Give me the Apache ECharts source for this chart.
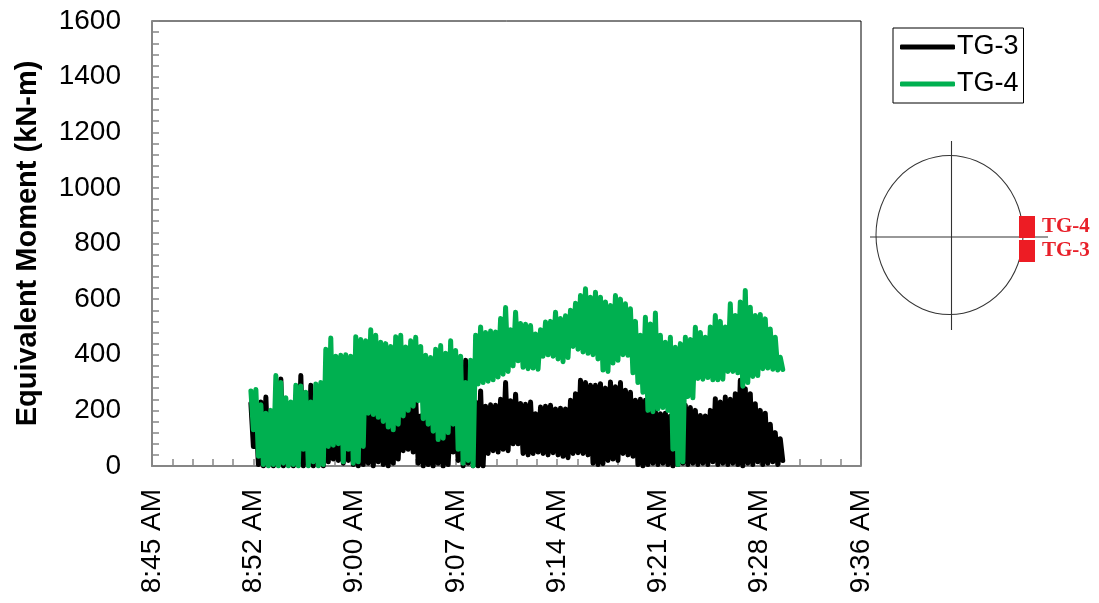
<!DOCTYPE html>
<html>
<head>
<meta charset="utf-8">
<script src="https://cdn.jsdelivr.net/npm/echarts@6/dist/echarts.min.js"></script>
<style>
  html, body { margin: 0; padding: 0; background: #fff; }
  #chart { width: 1099px; height: 603px; }
</style>
</head>
<body>
<div id="chart"></div>
<script>
// Equivalent moment at gauges TG-3 and TG-4 (kN-m), consecutive readings.
const seriesNames = ['TG-3', 'TG-4'];

const tg3Moment = [
  225, 70, 200, 5, 230, 0, 248, 5, 180, 0, 220, 10, 313, 0, 230, 5, 200, 0, 240, 10,
  325, 0, 250, 5, 290, 0, 240, 10, 230, 0, 200, 15, 260, 25, 230, 20, 280, 10, 250, 20,
  373, 5, 250, 0, 220, 5, 230, 10, 210, 0, 200, 15, 220, 5, 180, 0, 190, 10, 210, 25,
  235, 55, 225, 60, 235, 50, 245, 10, 180, 0, 160, 5, 150, 0, 120, 10, 140, 0, 150, 5,
  190, 50, 170, 20, 200, 0, 380, 10, 315, 0, 230, 0, 270, 0, 215, 45, 220, 55, 218, 50,
  240, 60, 300, 55, 235, 80, 258, 80, 225, 45, 222, 40, 230, 45, 188, 50, 212, 45, 215, 40,
  218, 48, 205, 40, 208, 35, 205, 30, 236, 45, 260, 48, 308, 45, 300, 40, 290, 10, 290, 5,
  296, 8, 280, 20, 302, 25, 285, 20, 300, 45, 272, 40, 265, 35, 236, 5, 240, 0, 236, 5,
  230, 10, 200, 5, 188, 10, 190, 5, 180, 0, 175, 5, 190, 10, 218, 5, 210, 10, 200, 5,
  182, 10, 180, 5, 200, 15, 242, 5, 230, 10, 248, 5, 240, 10, 260, 5, 308, 0, 278, 10,
  260, 5, 224, 15, 200, 5, 190, 10, 150, 15, 120, 5, 98, 20
];

const tg4Moment = [
  270, 130, 275, 35, 220, 5, 190, 0, 200, 5, 325, 0, 300, 10, 245, 0, 230, 5, 290, 0,
  288, 60, 265, 0, 230, 15, 295, 0, 300, 5, 420, 70, 460, 75, 395, 80, 398, 15, 400, 60,
  395, 10, 465, 15, 455, 70, 450, 190, 490, 185, 470, 175, 445, 160, 440, 140, 430, 130, 465, 150,
  470, 180, 428, 200, 450, 215, 463, 235, 430, 170, 398, 150, 390, 125, 420, 95, 433, 100, 405, 120,
  450, 150, 415, 60, 395, 10, 300, 20, 380, 0, 470, 295, 500, 300, 480, 305, 485, 310, 482, 320,
  530, 330, 570, 340, 490, 360, 553, 378, 512, 355, 510, 350, 505, 352, 475, 348, 490, 395, 518, 400,
  520, 395, 553, 385, 530, 375, 540, 390, 560, 430, 585, 420, 613, 410, 637, 405, 607, 400, 625, 385,
  607, 345, 590, 340, 577, 370, 613, 380, 600, 400, 583, 398, 565, 335, 520, 300, 470, 265, 535, 200,
  511, 195, 550, 205, 470, 210, 445, 200, 463, 60, 427, 5, 440, 15, 463, 250, 455, 245, 499, 315,
  480, 312, 463, 318, 500, 310, 541, 310, 520, 312, 500, 340, 583, 340, 541, 335, 590, 287, 631, 300,
  571, 322, 541, 325, 545, 350, 529, 352, 493, 348, 463, 345, 391, 347
];

// Readings start at 8:52:38 AM and follow every 10.65 s (times in minutes after midnight).
const firstSampleMinute = 532.63;
const sampleStepMinutes = 0.1775;

// Axis ranges: time axis 8:45:36 .. 9:36:00 in steps of 7.2 min, moment 0..1600 by 200.
const timeAxisMin = 525.6;
const timeAxisMax = 576;
const timeAxisStep = 7.2;
const momentAxisMin = 0;
const momentAxisMax = 1600;
const momentAxisStep = 200;

const FONT = '"Liberation Sans", Arial, sans-serif';
const AXIS_GREY = '#868686';

function toPairs(values) {
  return values.map((v, i) => [firstSampleMinute + i * sampleStepMinutes, v]);
}

function clockLabel(minutes) {
  const m = Math.round(minutes * 1000) / 1000;
  const h = Math.floor(m / 60);
  const mm = Math.floor(m - h * 60 + 1e-6);
  const suffix = h >= 12 ? 'PM' : 'AM';
  const h12 = ((h + 11) % 12) + 1;
  return h12 + ':' + String(mm).padStart(2, '0') + ' ' + suffix;
}

const chart = echarts.init(document.getElementById('chart'), null, { renderer: 'canvas' });

chart.setOption({
  animation: false,
  backgroundColor: '#fff',
  grid: {
    left: 152, top: 21, right: 238, bottom: 137,
    show: true, borderColor: '#000', borderWidth: 1, backgroundColor: 'transparent'
  },
  legend: {
    data: seriesNames,
    orient: 'vertical',
    left: 893, top: 28,
    padding: [4, 5, 4, 7],
    itemGap: 7,
    itemWidth: 55, itemHeight: 5,
    icon: 'roundRect',
    borderColor: '#000', borderWidth: 1,
    textStyle: { fontFamily: FONT, fontSize: 27, color: '#000', lineHeight: 30, padding: [0, 0, 0, -3] }
  },
  xAxis: {
    type: 'value',
    min: timeAxisMin, max: timeAxisMax, interval: timeAxisStep,
    axisLine: { show: true, onZero: false, lineStyle: { color: AXIS_GREY, width: 2 } },
    axisTick: { show: true, inside: true, length: 7, lineStyle: { color: AXIS_GREY, width: 1.5 } },
    minorTick: { show: true, splitNumber: 5, length: 7, lineStyle: { color: AXIS_GREY, width: 1.5 } },
    splitLine: { show: false },
    axisLabel: {
      rotate: 90, margin: 23, fontFamily: FONT, fontSize: 28, color: '#000',
      showMinLabel: true, showMaxLabel: true,
      formatter: clockLabel
    }
  },
  yAxis: {
    type: 'value',
    min: momentAxisMin, max: momentAxisMax, interval: momentAxisStep,
    name: 'Equivalent Moment (kN-m)',
    nameLocation: 'middle',
    nameGap: 110,
    nameTextStyle: { fontFamily: FONT, fontSize: 29, fontWeight: 'bold', color: '#000' },
    axisLine: { show: true, lineStyle: { color: AXIS_GREY, width: 2 } },
    axisTick: { show: true, inside: true, length: 7, lineStyle: { color: AXIS_GREY, width: 1.5 } },
    minorTick: { show: true, splitNumber: 5, length: 7, lineStyle: { color: AXIS_GREY, width: 1.5 } },
    splitLine: { show: false },
    axisLabel: {
      margin: 31, fontFamily: FONT, fontSize: 28, color: '#000',
      formatter: (v) => String(v)
    }
  },
  series: [
    {
      name: seriesNames[0], type: 'line', data: toPairs(tg3Moment),
      showSymbol: false, symbol: 'none', z: 2,
      itemStyle: { color: '#000' },
      lineStyle: { color: '#000', width: 5, cap: 'round', join: 'round' }
    },
    {
      name: seriesNames[1], type: 'line', data: toPairs(tg4Moment),
      showSymbol: false, symbol: 'none', z: 3,
      itemStyle: { color: '#00b050' },
      lineStyle: { color: '#00b050', width: 5, cap: 'round', join: 'round' }
    }
  ],
  // Gauge location sketch: section outline with centre lines and the two gauges.
  graphic: [
    { type: 'circle', x: 949.5, y: 235, scaleX: 73.5 / 79.5,
      shape: { cx: 0, cy: 0, r: 79.5 },
      style: { fill: 'none', stroke: '#333', lineWidth: 1.1 } },
    { type: 'line', shape: { x1: 951.5, y1: 141, x2: 951.5, y2: 330 },
      style: { stroke: '#333', lineWidth: 1.1 } },
    { type: 'line', shape: { x1: 870, y1: 237, x2: 1048, y2: 237 },
      style: { stroke: '#333', lineWidth: 1.1 } },
    { type: 'rect', shape: { x: 1019, y: 216, width: 16, height: 22 },
      style: { fill: '#ed1c24' } },
    { type: 'rect', shape: { x: 1019, y: 240, width: 16, height: 22 },
      style: { fill: '#ed1c24' } },
    { type: 'text', x: 1042, y: 227,
      style: { text: 'TG-4', fill: '#e8202a', fontFamily: '"Liberation Serif", "Times New Roman", serif',
               fontSize: 21, fontWeight: 'bold', verticalAlign: 'middle' } },
    { type: 'text', x: 1042, y: 251,
      style: { text: 'TG-3', fill: '#e8202a', fontFamily: '"Liberation Serif", "Times New Roman", serif',
               fontSize: 21, fontWeight: 'bold', verticalAlign: 'middle' } }
  ]
});
</script>
</body>
</html>
